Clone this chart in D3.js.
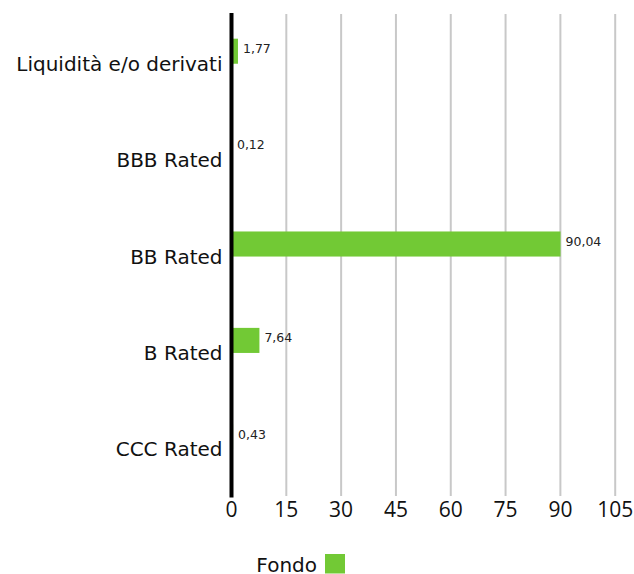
<!DOCTYPE html>
<html>
<head>
<meta charset="utf-8">
<script src="https://cdn.jsdelivr.net/npm/d3@7"></script>
<style>
	body { margin: 0; background: #fff; }
	svg { display: block; font-family: "DejaVu Sans", sans-serif; }
</style>
</head>
<body>
<svg id="chart" width="634" height="574"></svg>
<script>
// Data
const categories = ["Liquidità e/o derivati", "BBB Rated", "BB Rated", "B Rated", "CCC Rated"];
const fondo = [1.77, 0.12, 90.04, 7.64, 0.43];
const xTicks = [0, 15, 30, 45, 60, 75, 90, 105];
const seriesName = "Fondo";

const width = 634,
	height = 574;
const margin = { top: 14, left: 231.5, right: 18.8, bottom: 78 };
const green = "#72c935";

const svg = d3.select("#chart");

const x = d3.scaleLinear().domain([0, 105]).range([margin.left, width - margin.right]);
const y = d3.scaleBand().domain(categories).range([margin.top, height - margin.bottom]);

// format 1.77 -> "1,77"
const fmt = (v) => d3.format(".2f")(v).replace(".", ",");

// grid
svg.append("g")
	.selectAll("line")
	.data(xTicks.slice(1))
	.join("line")
	.attr("x1", (d) => x(d))
	.attr("x2", (d) => x(d))
	.attr("y1", margin.top)
	.attr("y2", height - margin.bottom)
	.attr("stroke", "#c8c8c8")
	.attr("stroke-width", 2);

// tick labels
svg.append("g")
	.selectAll("text")
	.data(xTicks)
	.join("text")
	.attr("x", (d) => x(d))
	.attr("y", 517)
	.attr("text-anchor", "middle")
	.attr("font-family", "Open Sans, sans-serif")
	.attr("font-size", 21)
	.attr("fill", "#111")
	.text((d) => d);

// bars (series sits in upper part of each band)
const barY = (d, i) => y(categories[i]) + y.bandwidth() * 0.256;
const barH = y.bandwidth() * 0.26;

svg.append("g")
	.selectAll("rect")
	.data(fondo)
	.join("rect")
	.attr("x", x(0))
	.attr("y", barY)
	.attr("width", (d) => x(d) - x(0))
	.attr("height", barH)
	.attr("fill", green);

// value labels
svg.append("g")
	.selectAll("text")
	.data(fondo)
	.join("text")
	.attr("x", (d) => x(d) + 5)
	.attr("y", (d, i) => barY(d, i) + barH / 2 - 2.5)
	.attr("dy", "0.35em")
	.attr("font-size", 12.5)
	.attr("fill", "#222")
	.text((d) => fmt(d));

// category labels
svg.append("g")
	.selectAll("text")
	.data(categories)
	.join("text")
	.attr("x", margin.left - 9)
	.attr("y", (d) => y(d) + y.bandwidth() / 2 + 1.5)
	.attr("dy", "0.35em")
	.attr("text-anchor", "end")
	.attr("font-size", 20)
	.attr("fill", "#111")
	.text((d) => d);

// axis line
svg.append("line")
	.attr("x1", x(0))
	.attr("x2", x(0))
	.attr("y1", margin.top - 1)
	.attr("y2", height - margin.bottom + 1.5)
	.attr("stroke", "#000")
	.attr("stroke-width", 4);

// legend
const legend = svg.append("g").attr("transform", "translate(317,563)");
legend.append("text")
	.attr("x", 0)
	.attr("y", 2)
	.attr("dy", "0.35em")
	.attr("text-anchor", "end")
	.attr("font-size", 20)
	.attr("fill", "#111")
	.text(seriesName);
legend.append("rect")
	.attr("x", 8)
	.attr("y", -9)
	.attr("width", 20)
	.attr("height", 19.5)
	.attr("fill", green);
</script>
</body>
</html>
